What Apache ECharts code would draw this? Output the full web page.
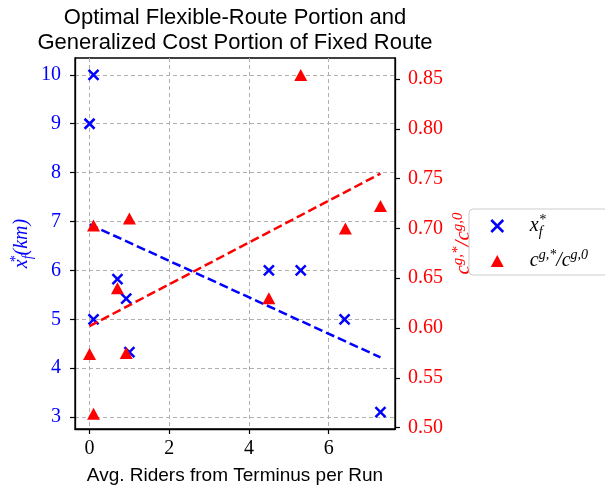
<!DOCTYPE html>
<html>
<head>
<meta charset="utf-8">
<script src="https://cdn.jsdelivr.net/npm/echarts@6/dist/echarts.min.js"></script>
<style>html,body{margin:0;padding:0;background:#fff}#c{width:605px;height:490px}</style>
</head>
<body>
<div id="c"></div>
<script>
// ---- data ----
const xfX = [0.1, 0.0, 0.7, 0.92, 0.1, 1.0, 4.5, 5.3, 6.4, 7.3];
const xfY = [10.0, 9.0, 5.82, 5.42, 5.0, 4.33, 6.0, 6.0, 5.0, 3.1];
const costX = [5.3, 0.1, 1.0, 0.7, 0.0, 0.92, 0.1, 4.5, 6.42, 7.3];
const costY = [0.854, 0.703, 0.710, 0.640, 0.574, 0.575, 0.514, 0.630, 0.700, 0.7225];
const fitX = [0.0, 7.3];
const xfFit = [6.94, 4.22];
const costFit = [0.602, 0.755];
const xTicks = [0, 2, 4, 6];
const yLeftTicks = [3, 4, 5, 6, 7, 8, 9, 10];
const yRightTicks = [0.50, 0.55, 0.60, 0.65, 0.70, 0.75, 0.80, 0.85];
const titleText = 'Optimal Flexible-Route Portion and\nGeneralized Cost Portion of Fixed Route';
const xName = 'Avg. Riders from Terminus per Run';

const pair = (xs, ys) => xs.map((x, i) => [x, ys[i]]);
const serif = 'Liberation Serif';
const sans = 'Liberation Sans';
const xPath = 'path://M0,0L10,10M10,0L0,10';
const mathRich = (color, lh, fs, ss) => ({
  i: {fontFamily: serif, fontStyle: 'italic', fontSize: fs, color: color, lineHeight: lh, verticalAlign: 'middle'},
  sup: {fontFamily: serif, fontStyle: 'italic', fontSize: ss, color: color, verticalAlign: 'top', lineHeight: lh},
  supz: {fontFamily: serif, fontStyle: 'italic', fontSize: ss, color: color, verticalAlign: 'top', lineHeight: lh, width: 0},
  sub: {fontFamily: serif, fontStyle: 'italic', fontSize: ss, color: color, verticalAlign: 'bottom', lineHeight: lh}
});

const chart = echarts.init(document.getElementById('c'), null, {renderer: 'canvas'});
const gridLine = {show: true, lineStyle: {color: '#b0b0b0', type: [4, 3], width: 1}};
const tickStyle = {color: '#000', width: 1.2};
chart.setOption({
  animation: false,
  backgroundColor: '#fff',
  title: {
    text: titleText, left: 235, top: 5, textAlign: 'center', padding: 0,
    textStyle: {fontFamily: sans, fontSize: 22, fontWeight: 'normal', color: '#000', lineHeight: 25}
  },
  grid: {left: 75, right: 210, top: 58, bottom: 61, containLabel: false, outerBoundsMode: 'none',
    show: true, borderColor: '#000', borderWidth: 1.3, backgroundColor: 'transparent'},
  legend: {
    orient: 'vertical', left: 469, top: 209,
    padding: [4, 60, 4, 21], itemGap: 9, itemWidth: 13, itemHeight: 12,
    borderColor: '#cccccc', borderWidth: 1, borderRadius: 4, backgroundColor: 'transparent',
    data: [
      {name: 'xf', icon: xPath, itemStyle: {color: '#0000ff', borderColor: '#0000ff', borderWidth: 2.5}},
      {name: 'cg', icon: 'triangle', itemStyle: {color: '#ff0000', borderWidth: 0}}
    ],
    formatter: (n) => n === 'xf' ? '{i|x}{supz|*}{sub|f}' : '{i|c}{sup|g,*}{i|/c}{sup|g,0}',
    textStyle: {padding: [0, 0, 0, 21], rich: mathRich('#000', 26, 20, 14)}
  },
  xAxis: {
    type: 'value', min: -0.365, max: 7.665,
    name: xName, nameLocation: 'middle', nameGap: 37, nameMoveOverlap: false,
    nameTextStyle: {fontFamily: sans, fontSize: 19, color: '#000'},
    axisLine: {show: true, onZero: false, lineStyle: {color: '#000', width: 1.3}},
    axisTick: {show: true, length: 5, customValues: xTicks, lineStyle: tickStyle},
    axisLabel: {customValues: xTicks, fontFamily: serif, fontSize: 20, color: '#000', margin: 10},
    splitLine: gridLine
  },
  yAxis: [
    {
      type: 'value', min: 2.755, max: 10.345, position: 'left',
      name: '{i|x}{supz|*}{sub|f}{i|(km)}', nameLocation: 'middle', nameGap: 40, nameRotate: 90,
      nameMoveOverlap: false,
      nameTextStyle: {rich: mathRich('#0000ff', 26, 20, 14)},
      axisLine: {show: true, onZero: false, lineStyle: {color: '#000', width: 1.3}},
      axisTick: {show: true, length: 5, customValues: yLeftTicks, lineStyle: tickStyle},
      axisLabel: {customValues: yLeftTicks, fontFamily: serif, fontSize: 20, color: '#0000ff', margin: 14},
      splitLine: gridLine
    },
    {
      type: 'value', min: 0.4987, max: 0.871, position: 'right',
      name: '{i|c}{sup|g,*}{i|/c}{sup|g,0}', nameLocation: 'middle', nameGap: 56, nameRotate: 90,
      nameMoveOverlap: false,
      nameTextStyle: {rich: mathRich('#ff0000', 24, 21, 15)},
      axisLine: {show: true, onZero: false, lineStyle: {color: '#000', width: 1.3}},
      axisTick: {show: true, length: 5, customValues: yRightTicks, lineStyle: tickStyle},
      axisLabel: {customValues: yRightTicks, fontFamily: serif, fontSize: 20, color: '#ff0000', margin: 13,
        formatter: (v) => v.toFixed(2)},
      splitLine: {show: false}
    }
  ],
  series: [
    {
      name: 'xf', type: 'scatter', yAxisIndex: 0, data: pair(xfX, xfY),
      symbol: xPath, symbolSize: 10,
      itemStyle: {color: '#0000ff', borderColor: '#0000ff', borderWidth: 2.5, opacity: 1}, z: 3
    },
    {
      name: 'xfFit', type: 'line', yAxisIndex: 0, data: pair(fitX, xfFit), showSymbol: false,
      lineStyle: {color: '#0000ff', width: 2.5, type: [9, 4]}, z: 4
    },
    {
      name: 'cg', type: 'scatter', yAxisIndex: 1, data: pair(costX, costY),
      symbol: 'triangle', symbolSize: [13, 12],
      itemStyle: {color: '#ff0000', opacity: 1}, z: 5
    },
    {
      name: 'cgFit', type: 'line', yAxisIndex: 1, data: pair(fitX, costFit), showSymbol: false,
      lineStyle: {color: '#ff0000', width: 2.5, type: [9, 4]}, z: 6
    }
  ]
});
</script>
</body>
</html>
